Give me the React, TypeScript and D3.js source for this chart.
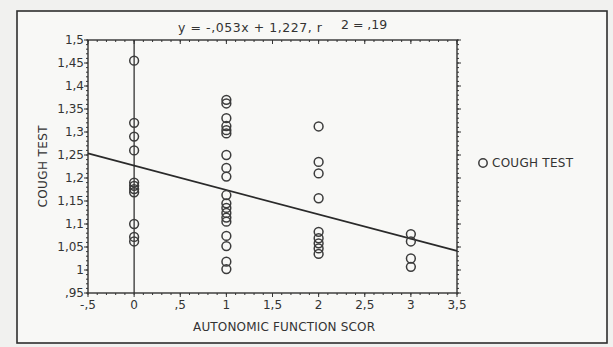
import React from 'react';
import * as d3 from 'd3';

const W = 613;
const H = 347;
const MARGIN = { top: 40, right: 156, bottom: 54, left: 88 };

// autonomic function score -> cough test values
const score0 = [1.455, 1.32, 1.29, 1.26, 1.19, 1.183, 1.176, 1.169, 1.1, 1.072, 1.062];
const score1 = [
  1.37, 1.362, 1.33, 1.313, 1.304, 1.297, 1.25, 1.222, 1.203, 1.163, 1.145, 1.135, 1.124, 1.114,
  1.105, 1.074, 1.052, 1.018, 1.002,
];
const score2 = [1.312, 1.235, 1.21, 1.156, 1.083, 1.069, 1.058, 1.047, 1.035];
const score3 = [1.078, 1.062, 1.025, 1.007];

const groups: [number, number[]][] = [
  [0, score0],
  [1, score1],
  [2, score2],
  [3, score3],
];

const SLOPE = -0.053;
const INTERCEPT = 1.227;

const xTicks = [-0.5, 0, 0.5, 1, 1.5, 2, 2.5, 3, 3.5];
const yTicks = [0.95, 1, 1.05, 1.1, 1.15, 1.2, 1.25, 1.3, 1.35, 1.4, 1.45, 1.5];

// ,5 style labels
const fmt = (v: number) => {
  let s = String(+v.toFixed(2)).replace('.', ',');
  s = s.replace(/^0,/, ',').replace(/^-0,/, '-,');
  return s;
};

const INK = '#333';
const FONT = 'DejaVu Sans, sans-serif';

const App = () => {
  const width = W - MARGIN.left - MARGIN.right;
  const height = H - MARGIN.top - MARGIN.bottom;

  const x = d3.scaleLinear().domain([-0.5, 3.5]).range([0, width]);
  const y = d3.scaleLinear().domain([0.95, 1.5]).range([height, 0]);

  const line = d3
    .line<number>()
    .x((d) => x(d))
    .y((d) => y(SLOPE * d + INTERCEPT));

  const xMinor = d3.range(-0.5, 3.5001, 0.1);
  const yMinor = d3.range(0.95, 1.5001, 0.01);

  const points = groups.flatMap(([s, vals]) => vals.map((v) => [s, v] as [number, number]));

  return (
    <svg
      width={W}
      height={H}
      style={{ position: 'absolute', left: 0, top: 0, background: '#f1f1ef' }}
    >
      <rect x={17} y={11} width={590} height={332} fill="#f8f8f6" stroke="#2e2e2e" strokeWidth={1.6} />

      <text x={178} y={32} fontFamily={FONT} fontSize={12.5} fill={INK} textLength={144}>
        y = -,053x + 1,227, r
      </text>
      <text x={341} y={29} fontFamily={FONT} fontSize={12.5} fill={INK}>
        2 = ,19
      </text>

      <g transform={`translate(${MARGIN.left}, ${MARGIN.top})`}>
        <rect x={0} y={0} width={width} height={height} fill="none" stroke={INK} strokeWidth={1.4} />

        {/* minor ticks on all four sides */}
        {xMinor.map((t, i) => (
          <g key={`xm${i}`} stroke={INK} strokeWidth={1}>
            <line x1={x(t)} x2={x(t)} y1={height} y2={height + 2} />
            <line x1={x(t)} x2={x(t)} y1={0} y2={2} />
          </g>
        ))}
        {yMinor.map((t, i) => (
          <g key={`ym${i}`} stroke={INK} strokeWidth={1}>
            <line x1={-2} x2={0} y1={y(t)} y2={y(t)} />
            <line x1={width} x2={width + 2} y1={y(t)} y2={y(t)} />
          </g>
        ))}

        {xTicks.map((t) => (
          <g key={`x${t}`}>
            <line x1={x(t)} x2={x(t)} y1={height} y2={height + 4} stroke={INK} />
            <line x1={x(t)} x2={x(t)} y1={0} y2={4} stroke={INK} />
            <text
              x={x(t)}
              y={height + 16}
              textAnchor="middle"
              fontFamily={FONT}
              fontSize={12}
              fill={INK}
            >
              {fmt(t)}
            </text>
          </g>
        ))}
        {yTicks.map((t) => (
          <g key={`y${t}`}>
            <line x1={-4} x2={0} y1={y(t)} y2={y(t)} stroke={INK} />
            <line x1={width} x2={width + 4} y1={y(t)} y2={y(t)} stroke={INK} />
            <text
              x={-4}
              y={y(t)}
              dy="0.35em"
              textAnchor="end"
              fontFamily={FONT}
              fontSize={12}
              fill={INK}
            >
              {fmt(t)}
            </text>
          </g>
        ))}

        {/* zero line */}
        <line x1={x(0)} x2={x(0)} y1={0} y2={height} stroke={INK} strokeWidth={1.3} />

        <path d={line([-0.5, 3.5]) as string} fill="none" stroke="#2a2a2a" strokeWidth={1.7} />

        {points.map(([s, v], i) => (
          <circle
            key={i}
            cx={x(s)}
            cy={y(v)}
            r={4.4}
            fill="none"
            stroke="#3c3c3c"
            strokeWidth={1.5}
          />
        ))}

        <text
          transform={`translate(${43 - MARGIN.left}, ${height / 2}) rotate(-90)`}
          textAnchor="middle"
          dy="0.35em"
          fontFamily={FONT}
          fontSize={12}
          fill={INK}
          textLength={82}
        >
          COUGH TEST
        </text>
        <text
          x={284 - MARGIN.left}
          y={height + 38}
          textAnchor="middle"
          fontFamily={FONT}
          fontSize={12}
          fill={INK}
          textLength={182}
        >
          AUTONOMIC FUNCTION SCOR
        </text>
      </g>

      <circle cx={483} cy={163} r={4.2} fill="none" stroke="#3c3c3c" strokeWidth={1.5} />
      <text x={492} y={167} fontFamily={FONT} fontSize={12} fill={INK} textLength={81}>
        COUGH TEST
      </text>
    </svg>
  );
};

export default App;
